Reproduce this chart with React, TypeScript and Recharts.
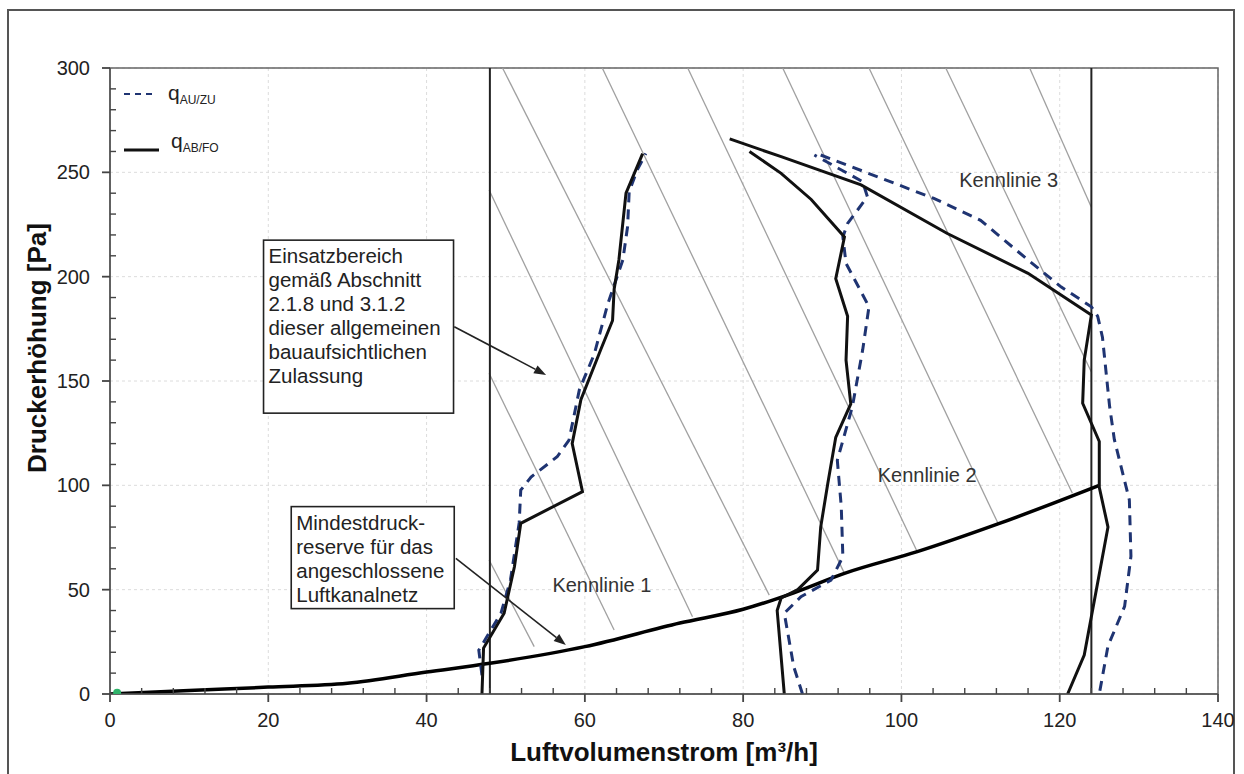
import React from 'react';
import {
  ComposedChart,
  Line,
  XAxis,
  YAxis,
  CartesianGrid,
  ReferenceLine,
  ReferenceDot,
  ReferenceArea,
  Scatter,
} from 'recharts';

const FONT = '"Liberation Sans", Arial, Helvetica, sans-serif';

// ---- axis ticks ----
const xMajorTicks = [0, 20, 40, 60, 80, 100, 120, 140];
const xMinorTicks = [4, 8, 12, 16, 24, 28, 32, 36, 44, 48, 52, 56, 64, 68, 72, 76, 84, 88, 92, 96, 104, 108, 112, 116, 124, 128, 132, 136];
const yMajorTicks = [0, 50, 100, 150, 200, 250, 300];
const yMinorTicks = [10, 20, 30, 40, 60, 70, 80, 90, 110, 120, 130, 140, 160, 170, 180, 190, 210, 220, 230, 240, 260, 270, 280, 290];
const xDomain = [0, 140];
const yDomain = [0, 300];

// ---- series: [Luftvolumenstrom m³/h, Druckerhöhung Pa] ----
const k1AuZu = [
  [47.0, 9], [46.6, 21], [49.4, 38.7], [50.6, 54.6], [51.7, 82], [51.9, 97.7], [53.2, 104],
  [56.5, 113.7], [58.0, 121.7], [59.3, 145.7], [61.2, 163], [62.9, 187], [64.8, 208],
  [65.4, 224], [65.6, 240.7], [66.6, 251], [67.7, 259],
];
const k1AbFo = [
  [47.0, 0], [47.2, 22], [49.8, 38.7], [51.1, 61], [51.9, 81.8], [59.7, 97], [58.4, 120],
  [59.5, 141], [62.0, 165], [63.5, 179], [63.7, 194], [64.3, 208], [65.2, 240], [67.3, 259],
];
const k2AuZu = [
  [87.5, 0], [86.4, 13], [85.2, 38.7], [87.3, 46.6], [91.1, 54.6], [92.6, 65.8], [92.4, 89.7],
  [91.9, 112], [93.8, 137.7], [95.1, 164.8], [95.9, 185.6], [93.0, 206.4], [92.6, 219],
  [93.2, 225.5], [95.7, 238.3], [95.1, 245.5], [89.0, 258.3],
];
const k2AbFo = [
  [85.2, 0], [84.3, 40], [84.8, 46], [86.9, 50], [89.4, 59.4], [89.8, 80], [90.7, 101],
  [91.7, 123], [93.6, 139], [93.0, 160], [93.2, 181], [91.7, 199], [92.8, 219], [88.6, 237],
  [84.8, 249.5], [80.8, 260],
];
const k3AuZu = [
  [89.8, 258.3], [95.3, 250.3], [104.1, 237.5], [110.0, 227], [116.0, 208], [120.2, 195],
  [124.0, 185.6], [124.8, 181], [125.4, 171], [126.3, 138], [126.9, 122], [128.8, 93],
  [129.0, 66], [128.2, 42], [126.1, 23], [125.0, 0],
];
const k3AbFo = [
  [78.3, 266], [84.8, 257.5], [94.9, 244], [105.8, 220.7], [116.0, 201.6], [124.0, 181.6],
  [123.1, 160], [122.9, 139.3], [125.0, 121], [125.0, 99], [126.1, 80], [123.1, 18.7], [121.0, 0],
];
const minReserve = [
  [0, 0], [10, 1.7], [20, 3.3], [30, 5.1], [40, 10.5], [48, 14.7], [60, 22.7], [72, 34],
  [80, 40.6], [86.4, 48.5], [92.8, 57.8], [102, 68.2], [112.2, 81.5], [125, 100],
];
// hatch lines of the operating range: [q1, p1, q2, p2]
const hatchLines = [
  [47.9, 64.2, 53.6, 22.7],
  [47.9, 153.7, 63.7, 30.7],
  [47.9, 241.5, 73.6, 37.0],
  [49.6, 300, 83.3, 47.4],
  [62.2, 300, 92.8, 57.8],
  [73.0, 300, 102.0, 68.2],
  [85.0, 300, 112.2, 81.8],
  [95.9, 300, 121.6, 96.2],
  [105.6, 300, 124.0, 154.3],
  [116.2, 300, 124.0, 233.3],
];
const rangeLimits = [48, 124];
const originMarker = [[0.9, 0.6]];

const box1Lines = [
  'Einsatzbereich',
  'gemäß Abschnitt',
  '2.1.8 und 3.1.2',
  'dieser allgemeinen',
  'bauaufsichtlichen',
  'Zulassung',
];
const box2Lines = ['Mindestdruck-', 'reserve für das', 'angeschlossene', 'Luftkanalnetz'];

const toPts = (arr: number[][]) => arr.map(([x, y]) => ({ x, y }));
const xAllTicks = [...xMajorTicks, ...xMinorTicks].sort((a, b) => a - b);
const yAllTicks = [...yMajorTicks, ...yMinorTicks].sort((a, b) => a - b);

const BLUE = '#1f3472';
const AXIS = '#444';

const gridX = (args: any) => {
  const s = args && args.xAxis && args.xAxis.scale;
  if (typeof s === 'function') return xMajorTicks.map((v) => s(v));
  const o = args.offset;
  return xMajorTicks.map((v) => o.left + ((v - xDomain[0]) / (xDomain[1] - xDomain[0])) * o.width);
};
const gridY = (args: any) => {
  const s = args && args.yAxis && args.yAxis.scale;
  if (typeof s === 'function') return yMajorTicks.map((v) => s(v));
  const o = args.offset;
  return yMajorTicks.map((v) => o.top + o.height - ((v - yDomain[0]) / (yDomain[1] - yDomain[0])) * o.height);
};

const makeBox = (lines: string[], w: number, h: number) => (props: any) => {
  const { cx, cy } = props;
  return (
    <g>
      <rect x={cx} y={cy} width={w} height={h} fill="#fff" stroke="#222" strokeWidth={1.6} />
      {lines.map((t, i) => (
        <text key={i} x={cx + 5} y={cy + 23 + i * 24} fontFamily={FONT} fontSize={20.5} fill="#222">
          {t}
        </text>
      ))}
    </g>
  );
};

const makeLabel = (t: string) => (props: any) => (
  <text x={props.cx} y={props.cy} fontFamily={FONT} fontSize={20} fill="#333">
    {t}
  </text>
);

const Arrow = (props: any) => {
  const { x1, y1, x2, y2 } = props;
  const ang = Math.atan2(y2 - y1, x2 - x1);
  const L = 12;
  const W = 4.5;
  const bx = x2 - L * Math.cos(ang);
  const by = y2 - L * Math.sin(ang);
  const px = -Math.sin(ang) * W;
  const py = Math.cos(ang) * W;
  return (
    <g>
      <line x1={x1} y1={y1} x2={bx} y2={by} stroke="#222" strokeWidth={1.6} />
      <polygon points={`${x2},${y2} ${bx + px},${by + py} ${bx - px},${by - py}`} fill="#222" />
    </g>
  );
};

const YLabel = (props: any) => {
  const vb = props.viewBox || {};
  const cy = (vb.y || 0) + (vb.height || 0) / 2 - 33;
  return (
    <text
      transform={`translate(46, ${cy}) rotate(-90)`}
      textAnchor="middle"
      fontFamily={FONT}
      fontSize={26}
      fontWeight="bold"
      fill="#111"
    >
      Druckerhöhung [Pa]
    </text>
  );
};

// x ticks: majors get an outside tick + label, minors an inside tick
const XTick = (props: any) => {
  const { x, y, payload } = props;
  const v = payload.value;
  if (xMajorTicks.includes(v)) {
    return (
      <g>
        <rect x={x - 0.9} y={y} width={1.8} height={8} fill={AXIS} />
        <text x={x} y={y + 19} dy="0.71em" textAnchor="middle" fontFamily={FONT} fontSize={20} fill="#222">
          {v}
        </text>
      </g>
    );
  }
  return <rect x={x - 0.7} y={y - 6} width={1.4} height={6} fill={AXIS} />;
};

const YTick = (props: any) => {
  const { x, y, payload } = props;
  const v = payload.value;
  if (yMajorTicks.includes(v)) {
    return (
      <g>
        <rect x={x - 8} y={y - 0.9} width={8} height={1.8} fill={AXIS} />
        <text x={x - 20} y={y} dy="0.355em" textAnchor="end" fontFamily={FONT} fontSize={20} fill="#222">
          {v}
        </text>
      </g>
    );
  }
  return <rect x={x} y={y - 0.7} width={6} height={1.4} fill={AXIS} />;
};

export default function App() {
  return (
    <div
      style={{
        position: 'absolute',
        left: 0,
        top: 0,
        width: 1244,
        height: 774,
        overflow: 'hidden',
        background: '#fff',
        fontFamily: FONT,
      }}
    >
      <div
        style={{
          position: 'absolute',
          left: 7,
          top: 9,
          width: 1228,
          height: 820,
          border: '2px solid #555',
          boxSizing: 'border-box',
        }}
      />
      <div style={{ position: 'absolute', left: 0, top: 0 }}>
        <ComposedChart width={1244} height={774} margin={{ top: 68, right: 26, bottom: 0, left: 0 }}>
          <CartesianGrid
            stroke="#dcdcdc"
            strokeDasharray="3 3"
            strokeWidth={1}
            verticalCoordinatesGenerator={gridX}
            horizontalCoordinatesGenerator={gridY}
          />
          <XAxis
            dataKey="x"
            type="number"
            domain={xDomain}
            allowDataOverflow
            ticks={xAllTicks}
            interval={0}
            height={80}
            tickSize={0}
            tickMargin={0}
            tickLine={false}
            stroke="#555"
            strokeWidth={1.5}
            tick={XTick}
            label={{
              value: 'Luftvolumenstrom [m³/h]',
              position: 'insideBottom',
              offset: 13,
              fontFamily: FONT,
              fontSize: 26,
              fontWeight: 'bold',
              fill: '#111',
            }}
          />
          <YAxis
            type="number"
            domain={yDomain}
            allowDataOverflow
            ticks={yAllTicks}
            interval={0}
            width={110}
            tickSize={0}
            tickMargin={0}
            tickLine={false}
            stroke="#555"
            strokeWidth={1.5}
            tick={YTick}
            label={{ content: YLabel }}
          />
          <ReferenceArea x1={0} x2={140} y1={0} y2={300} fill="none" fillOpacity={0} stroke="#666" strokeWidth={1.5} />

          {hatchLines.map(([a, b, c, d], i) => (
            <ReferenceLine key={'h' + i} segment={[{ x: a, y: b }, { x: c, y: d }]} stroke="#a0a0a0" strokeWidth={1.3} />
          ))}
          {rangeLimits.map((q, i) => (
            <ReferenceLine key={'r' + i} x={q} stroke="#222" strokeWidth={2} />
          ))}

          <Line data={toPts(minReserve)} dataKey="y" type="monotone" stroke="#000" strokeWidth={3.5} dot={false} activeDot={false} isAnimationActive={false} />

          <Line data={toPts(k1AuZu)} dataKey="y" type="linear" stroke={BLUE} strokeWidth={3} strokeDasharray="10 7" dot={false} activeDot={false} isAnimationActive={false} />
          <Line data={toPts(k2AuZu)} dataKey="y" type="linear" stroke={BLUE} strokeWidth={3} strokeDasharray="10 7" dot={false} activeDot={false} isAnimationActive={false} />
          <Line data={toPts(k3AuZu)} dataKey="y" type="linear" stroke={BLUE} strokeWidth={3} strokeDasharray="10 7" dot={false} activeDot={false} isAnimationActive={false} />

          <Line data={toPts(k1AbFo)} dataKey="y" type="linear" stroke="#111" strokeWidth={3} dot={false} activeDot={false} isAnimationActive={false} />
          <Line data={toPts(k2AbFo)} dataKey="y" type="linear" stroke="#111" strokeWidth={3} dot={false} activeDot={false} isAnimationActive={false} />
          <Line data={toPts(k3AbFo)} dataKey="y" type="linear" stroke="#111" strokeWidth={3} dot={false} activeDot={false} isAnimationActive={false} />

          <Scatter
            data={toPts(originMarker)}
            dataKey="y"
            isAnimationActive={false}
            shape={(p: any) => <circle cx={p.cx} cy={p.cy} r={4} fill="#2fb36a" />}
          />

          <ReferenceLine segment={[{ x: 43.5, y: 176 }, { x: 55.1, y: 152.9 }]} shape={Arrow} />
          <ReferenceLine segment={[{ x: 43.7, y: 65 }, { x: 57.6, y: 23.5 }]} shape={Arrow} />

          <ReferenceDot x={19.4} y={217.5} r={1} shape={makeBox(box1Lines, 190, 173)} />
          <ReferenceDot x={22.9} y={89.8} r={1} shape={makeBox(box2Lines, 163, 102)} />

          <ReferenceDot x={55.9} y={49} r={1} shape={makeLabel('Kennlinie 1')} />
          <ReferenceDot x={97.0} y={101.7} r={1} shape={makeLabel('Kennlinie 2')} />
          <ReferenceDot x={107.3} y={243.1} r={1} shape={makeLabel('Kennlinie 3')} />
        </ComposedChart>
      </div>
      <svg width={300} height={200} style={{ position: 'absolute', left: 0, top: 0 }}>
        <line x1={124} y1={94} x2={157} y2={94} stroke={BLUE} strokeWidth={2} strokeDasharray="6 5" />
        <text x={168} y={100} fontFamily={FONT} fontSize={21} fill="#222">
          q
          <tspan fontSize={12} dy={3.5}>AU/ZU</tspan>
        </text>
        <line x1={124} y1={150} x2={159} y2={150} stroke="#111" strokeWidth={3} />
        <text x={171} y={148} fontFamily={FONT} fontSize={21} fill="#222">
          q
          <tspan fontSize={12} dy={3.5}>AB/FO</tspan>
        </text>
      </svg>
    </div>
  );
}
